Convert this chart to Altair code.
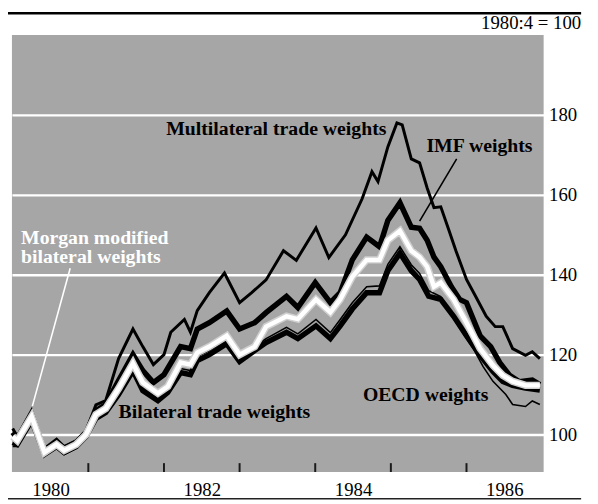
import altair as alt
import pandas as pd

# ---- data ----
multi_t = [1980.00, 1980.06, 1980.25, 1980.42, 1980.58, 1980.68, 1980.84, 1980.97, 1981.10, 1981.23,
           1981.40, 1981.59, 1981.72, 1981.86, 1982.00, 1982.09, 1982.27, 1982.35, 1982.44, 1982.60,
           1982.80, 1983.00, 1983.16, 1983.35, 1983.58, 1983.75, 1984.01, 1984.18, 1984.40, 1984.62,
           1984.75, 1984.83, 1984.96, 1985.08, 1985.15, 1985.27, 1985.38, 1985.48, 1985.57, 1985.66,
           1985.77, 1985.86, 1986.00, 1986.12, 1986.26, 1986.38, 1986.48, 1986.61, 1986.78, 1986.87, 1986.97]
multi_v = [101.5, 99.5, 106, 96.5, 98.8, 97, 98.5, 101, 107.4, 108.5,
           119, 126.4, 122, 117.5, 120, 125.6, 128.8, 125.6, 131, 135.5,
           140.4, 133, 135.5, 138.7, 146, 143.6, 151.7, 144.3, 150, 159,
           165.8, 163.3, 172, 178, 177.5, 169, 168, 161.7, 156.8, 157,
           151, 146, 138.8, 134.6, 129.6, 127, 127, 121.5, 119.8, 120.7, 119]

imf_t = [1980.00, 1980.06, 1980.25, 1980.42, 1980.58, 1980.68, 1980.84, 1980.97, 1981.10, 1981.23,
         1981.40, 1981.59, 1981.72, 1981.86, 1982.00, 1982.22, 1982.35, 1982.44, 1982.60, 1982.83,
         1983.00, 1983.20, 1983.35, 1983.62, 1983.77, 1984.00, 1984.20, 1984.33, 1984.49, 1984.68,
         1984.85, 1984.96, 1985.12, 1985.27, 1985.38, 1985.48, 1985.57, 1985.66, 1985.80, 1985.91,
         1986.00, 1986.18, 1986.32, 1986.44, 1986.57, 1986.70, 1986.87, 1986.97]
imf_v = [100.5, 99, 105, 96, 98, 96.5, 98, 100.5, 106, 107.5,
         113.5, 120, 116, 113, 115, 122, 121.5, 126.4, 128, 130.9,
         126.4, 128, 130.5, 134.6, 131.8, 138, 133, 135.5, 143.7, 149.4,
         147, 153.6, 158, 151.9, 151.6, 148.6, 144.4, 142, 137, 133.8,
         133, 124.7, 122, 118, 114.8, 113.2, 113.6, 112.5]

morgan_t = [1980.00, 1980.06, 1980.25, 1980.42, 1980.58, 1980.68, 1980.84, 1980.97, 1981.10, 1981.23,
            1981.40, 1981.59, 1981.72, 1981.92, 1982.05, 1982.22, 1982.35, 1982.44, 1982.60, 1982.83,
            1983.00, 1983.20, 1983.35, 1983.62, 1983.77, 1984.01, 1984.20, 1984.33, 1984.49, 1984.68,
            1984.85, 1984.96, 1985.12, 1985.27, 1985.38, 1985.48, 1985.57, 1985.66, 1985.83, 1986.00,
            1986.18, 1986.35, 1986.48, 1986.61, 1986.78, 1986.97]
morgan_v = [99.5, 98.5, 104.5, 95.5, 97.5, 96, 97.5, 100, 105, 106.5,
            111.5, 117.8, 113, 110.3, 112, 118, 117.5, 120.5, 122, 124.7,
            120, 122, 127, 129.6, 128.9, 133.8, 130.6, 133.8, 139.5, 143.7,
            143.7, 148.6, 151, 146, 144.4, 142, 137, 138, 133.8, 128,
            121.5, 117.3, 114.8, 113.3, 112.3, 112.3]

oecd_t = [1980.00, 1980.06, 1980.25, 1980.42, 1980.58, 1980.68, 1980.84, 1980.97, 1981.10, 1981.23,
          1981.40, 1981.59, 1981.72, 1981.92, 1982.05, 1982.22, 1982.35, 1982.44, 1982.60, 1982.83,
          1983.00, 1983.20, 1983.35, 1983.62, 1983.77, 1984.01, 1984.20, 1984.33, 1984.49, 1984.68,
          1984.85, 1984.96, 1985.12, 1985.27, 1985.38, 1985.50, 1985.66, 1985.83, 1986.00, 1986.18,
          1986.35, 1986.48, 1986.61, 1986.78, 1986.97]
oecd_v = [98, 97.5, 103.5, 95, 97, 95.5, 97, 99.5, 104, 105.5,
          110, 116, 111, 108.5, 110.5, 115.5, 115, 118.5, 120, 122.7,
          118.3, 121, 123, 125.6, 124, 127.2, 124, 127.2, 131.4, 135.5,
          135.5, 141, 145.4, 141, 138.8, 134.6, 133.8, 129.6, 124.7, 119.8,
          115.8, 113.3, 112.3, 111.6, 111.1]

bilat_t = [1980.00, 1980.06, 1980.25, 1980.42, 1980.58, 1980.68, 1980.84, 1980.97, 1981.10, 1981.23,
           1981.40, 1981.59, 1981.72, 1981.92, 1982.05, 1982.22, 1982.35, 1982.44, 1982.60, 1982.83,
           1983.00, 1983.20, 1983.35, 1983.62, 1983.77, 1984.01, 1984.20, 1984.33, 1984.49, 1984.68,
           1984.85, 1984.96, 1985.12, 1985.27, 1985.38, 1985.50, 1985.66, 1985.83, 1986.00, 1986.09,
           1986.22, 1986.35, 1986.52, 1986.61, 1986.78, 1986.87, 1986.97]
bilat_v = [97, 97, 103, 95, 96.5, 95, 96.5, 99, 104.5, 106,
           110.5, 116.5, 112, 109.5, 111.5, 116.5, 116, 119.5, 121, 123.5,
           119.2, 122, 124, 126.8, 125.2, 128.8, 125.5, 128.8, 133, 137,
           137.2, 142.6, 147, 142.5, 140.3, 136, 134.5, 129, 124, 121.5,
           117, 113.3, 110, 107.5, 107, 108.4, 107.5]

y_ticks = [100, 120, 140, 160, 180]
x_label_pos = [1980.5, 1982.5, 1984.5, 1986.5]
year_ticks = [1981, 1982, 1983, 1984, 1985, 1986]

labels_text = ["Multilateral trade weights", "IMF weights", "Bilateral trade weights", "OECD weights"]
labels_t = [1982.03, 1985.47, 1981.40, 1984.63]
labels_v = [174.9, 170.7, 104.2, 108.4]

morgan_lines = ["Morgan modified", "bilateral weights"]
morgan_lt = [1980.11]
morgan_lv = [147.8]

unit_text = "1980:4\u00a0=\u00a0100"

W, H = 539, 443
SERIF = "Liberation Serif"
xs = alt.Scale(domain=[1979.99, 1987.02], nice=False, zero=False)
ys = alt.Scale(domain=[90.6, 200], nice=False, zero=False)

XAXIS = alt.Axis(values=x_label_pos, labelExpr="floor(datum.value)", ticks=False, domain=False,
                 grid=False, labelFont=SERIF, labelFontSize=19, labelColor="black",
                 labelPadding=9, title=None)
YAXIS = alt.Axis(orient="right", values=y_ticks, ticks=False, domain=False, grid=True,
                 gridColor="white", gridWidth=2.4, gridOpacity=1, labelFont=SERIF,
                 labelFontSize=19, labelColor="black", labelPadding=5, title=None)


def X(field="t"):
    return alt.X(f"{field}:Q", scale=xs, axis=XAXIS)


def Y(field="v"):
    return alt.Y(f"{field}:Q", scale=ys, axis=YAXIS)


def line(ts, vs, color, width):
    df = pd.DataFrame({"t": ts, "v": vs})
    return alt.Chart(df).mark_line(color=color, strokeWidth=width, strokeJoin="miter").encode(
        x=X(), y=Y())


tick_df = pd.DataFrame({"t": year_ticks})
ticks = alt.Chart(tick_df).mark_rule(color="#1a1a1a", strokeWidth=2).encode(
    x=X(), y=alt.value(H), y2=alt.value(H - 9))

lab_df = pd.DataFrame({"t": labels_t, "v": labels_v, "s": labels_text})
labels = alt.Chart(lab_df).mark_text(
    align="left", baseline="alphabetic", font=SERIF, fontSize=20, fontWeight="bold", color="black"
).encode(x=X(), y=Y(), text="s:N")

mlab_df = pd.DataFrame({"t": morgan_lt, "v": morgan_lv})
mlabels = alt.Chart(mlab_df).mark_text(
    align="left", baseline="alphabetic", font=SERIF, fontSize=20, fontWeight="bold", color="white",
    text=morgan_lines, lineHeight=20
).encode(x=X(), y=Y())

lead_df = pd.DataFrame({
    "t": [1980.76, 1985.87], "v": [141.6, 169.0],
    "t2": [1980.26, 1985.38], "v2": [107.1, 153.4],
    "c": ["white", "black"],
})
leaders = alt.Chart(lead_df).mark_rule(strokeWidth=1.6).encode(
    x=X(), y=Y(), x2="t2:Q", y2="v2:Q",
    color=alt.Color("c:N", scale=None, legend=None),
)

dummy = pd.DataFrame({"a": [0]})
top_rule = alt.Chart(dummy).mark_rule(color="black", strokeWidth=2.5).encode(
    x=alt.value(-4), x2=alt.value(577), y=alt.value(-22))
bottom_rule = alt.Chart(dummy).mark_rule(color="#222", strokeWidth=1.5).encode(
    x=alt.value(-4), x2=alt.value(577), y=alt.value(470))
unit = alt.Chart(dummy).mark_text(
    align="right", baseline="alphabetic", font=SERIF, fontSize=19, color="black", text=unit_text
).encode(x=alt.value(577), y=alt.value(-6))

chart = alt.layer(
    line(oecd_t, oecd_v, "black", 5.5),
    line(imf_t, imf_v, "black", 5.5),
    line(multi_t, multi_v, "black", 3),
    line(bilat_t, bilat_v, "black", 1.6),
    line(morgan_t, morgan_v, "#d0d0d0", 7.5),
    line(morgan_t, morgan_v, "white", 4.5),
    ticks, labels, mlabels, leaders, top_rule, bottom_rule, unit,
).properties(
    width=W, height=H,
    background="white",
    autosize=alt.AutoSizeParams(type="none"),
    padding={"left": 4, "top": 24, "right": 47, "bottom": 29},
).configure_view(fill="#a6a6a6", stroke=None)

chart.save("out.html", embed_options={"renderer": "svg", "actions": False})
